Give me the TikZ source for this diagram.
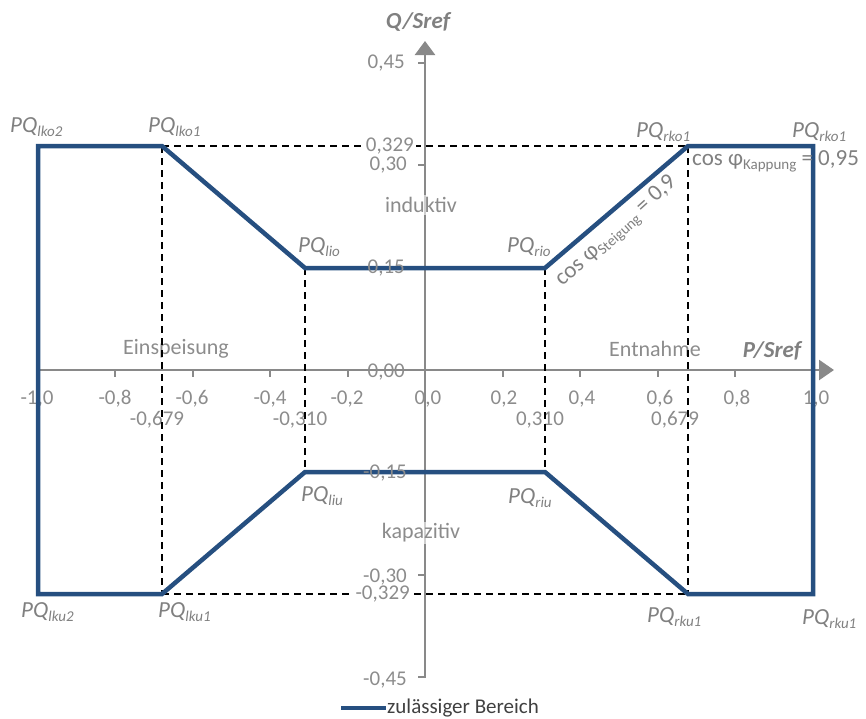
\documentclass[tikz,border=0pt]{standalone}
\usepackage{fontspec}
\setmainfont{Carlito}
\usetikzlibrary{arrows.meta}
\definecolor{curveblue}{RGB}{38,79,128}
\definecolor{axisgray}{RGB}{137,137,137}
\definecolor{labelgray}{RGB}{140,140,140}
\definecolor{pqgray}{RGB}{128,128,128}
\definecolor{legendgray}{RGB}{64,64,64}
\newcommand{\pqsub}[1]{\raisebox{-4pt}{\fontsize{15}{15}\selectfont #1}}
\begin{document}
\begin{tikzpicture}[x=1pt,y=-1pt,
  axisline/.style={draw=axisgray,line width=2.6pt},
  tickline/.style={draw=axisgray,line width=2pt},
  ticklbl/.style={text=labelgray,font=\fontsize{21}{23}\selectfont,inner sep=0pt},
  ylbl/.style={ticklbl,anchor=east},
  pqlbl/.style={text=pqgray,font=\fontsize{23}{25}\selectfont\itshape,inner sep=0pt,anchor=base west},
  regionlbl/.style={text=labelgray,font=\fontsize{22}{24}\selectfont,inner sep=1pt},
  guide/.style={draw=black,line width=1.6pt,dash pattern=on 7pt off 5pt},
  boundary/.style={draw=curveblue,line width=4.5pt,line join=miter},
  axistitle/.style={text=pqgray,font=\fontsize{23}{25}\selectfont\bfseries\itshape,inner sep=0pt},
  coslbl/.style={text=pqgray,font=\fontsize{23}{25}\selectfont,inner sep=0pt}
]
\useasboundingbox (0,0) rectangle (866,718);

% ---------- axes ----------
\coordinate (xstart) at (36,370);
\coordinate (xend) at (834,370);
\coordinate (ystart) at (425,678);
\coordinate (yend) at (425,41);
\draw[axisline,-{Triangle[length=15pt,width=20pt]}] (xstart) -- (xend);
\draw[axisline,-{Triangle[length=14pt,width=20pt]}] (ystart) -- (yend);
\foreach \k in {-5,...,5}{
  \draw[tickline] ({425+77.5*\k},370) -- ({425+77.5*\k},377);
}
\foreach \k in {-3,...,3}{
  \draw[tickline] (425,{370-102.3*\k}) -- (418,{370-102.3*\k});
}

% x tick labels
\node[ticklbl] (xm10) at (37,399) {-1,0};
\node[ticklbl] (xm08) at (115,399) {-0,8};
\node[ticklbl] (xm06) at (192,399) {-0,6};
\node[ticklbl] (xm04) at (270,399) {-0,4};
\node[ticklbl] (xm02) at (347,399) {-0,2};
\node[ticklbl] (x00) at (428,399) {0,0};
\node[ticklbl] (xp02) at (504,399) {0,2};
\node[ticklbl] (xp04) at (582,399) {0,4};
\node[ticklbl] (xp06) at (660,399) {0,6};
\node[ticklbl] (xp08) at (737,399) {0,8};
\node[ticklbl] (xp10) at (816,399) {1,0};
\node[ticklbl] (xm679) at (157,420) {-0,679};
\node[ticklbl] (xm310) at (300,420) {-0,310};
\node[ticklbl] (xp310) at (540,420) {0,310};
\node[ticklbl] (xp679) at (675,420) {0,679};

% region labels on the P axis
\node[regionlbl] (einsp) at (176,349) {Einspeisung};
\node[regionlbl] (entn) at (655,349) {Entnahme};

% ---------- corner points ----------
\coordinate (lko2) at (38,146);
\coordinate (lko1) at (162,146);
\coordinate (lio) at (305,268);
\coordinate (rio) at (545,268);
\coordinate (rko1) at (688,146);
\coordinate (rko1b) at (813,146);
\coordinate (rku1b) at (813,594);
\coordinate (rku1) at (688,594);
\coordinate (riu) at (545,472);
\coordinate (liu) at (305,472);
\coordinate (lku1) at (162,594);
\coordinate (lku2) at (38,594);

% ---------- dashed guides ----------
\draw[guide] (lko1) -- (rko1);
\draw[guide] (lku1) -- (rku1);
\draw[guide] (lko1) -- (lku1);
\draw[guide] (lio) -- (liu);
\draw[guide] (rio) -- (riu);
\draw[guide] (rko1) -- (rku1);

% labels with white background over guides
\node[ylbl,fill=white,inner sep=2pt] (yp329) at (416,146) {0,329};
\node[ylbl,fill=white,inner sep=2pt] (ym329) at (412,594) {-0,329};
\node[ylbl] (yp30) at (407,165) {0,30};
\node[ylbl] (ym30) at (407,577) {-0,30};

% ---------- boundary ----------
\draw[boundary] (lku2) -- (lko2) -- (lko1) -- (lio) -- (rio) -- (rko1) -- (rko1b)
  -- (rku1b) -- (rku1) -- (riu) -- (liu) -- (lku1) -- cycle;

% y tick labels
\node[ylbl] (yp45) at (405,63) {0,45};
\node[ylbl] (yp15) at (405,268) {0,15};
\node[ylbl] (y00) at (405,372) {0,00};
\node[ylbl] (ym15) at (407,473) {-0,15};
\node[ylbl] (ym45) at (407,680) {-0,45};

% axis titles
\node[axistitle] (qtitle) at (418,22) {Q/Sref};
\node[axistitle] (ptitle) at (772,351) {P/Sref};

% region labels on Q axis
\node[regionlbl,fill=white,fill opacity=0.6,text opacity=1,inner sep=2pt] (ind) at (421,205) {induktiv};
\node[regionlbl,fill=white,fill opacity=0.6,text opacity=1,inner sep=2pt] (kap) at (421,533) {kapazitiv};

% PQ labels
\node[pqlbl] (tlko2) at (10,132) {PQ\pqsub{lko2}};
\node[pqlbl] (tlko1) at (148,132) {PQ\pqsub{lko1}};
\node[pqlbl] (tlio) at (298,252) {PQ\pqsub{lio}};
\node[pqlbl] (trio) at (507,252) {PQ\pqsub{rio}};
\node[pqlbl] (trko1) at (636,137) {PQ\pqsub{rko1}};
\node[pqlbl] (trko1b) at (792,137) {PQ\pqsub{rko1}};
\node[pqlbl] (tliu) at (301,501) {PQ\pqsub{liu}};
\node[pqlbl] (triu) at (508,503) {PQ\pqsub{riu}};
\node[pqlbl] (tlku2) at (21,617) {PQ\pqsub{lku2}};
\node[pqlbl] (tlku1) at (158,617) {PQ\pqsub{lku1}};
\node[pqlbl] (trku1) at (647,622) {PQ\pqsub{rku1}};
\node[pqlbl] (trku1b) at (802,624) {PQ\pqsub{rku1}};

% cos phi labels
\node[coslbl,anchor=base west] (kapp) at (692,165) {cos φ\pqsub{Kappung} = 0,95};
\node[coslbl,rotate=42] (steig) at (617,232) {cos φ\pqsub{Steigung} = 0,9};

% legend
\coordinate (legA) at (341,708);
\coordinate (legB) at (386,708);
\draw[boundary,line width=4pt] (legA) -- (legB);
\node[anchor=base west,inner sep=0pt,text=legendgray,font=\fontsize{21}{23}\selectfont] (legtxt) at (387,713) {zulässiger Bereich};
\end{tikzpicture}
\end{document}
